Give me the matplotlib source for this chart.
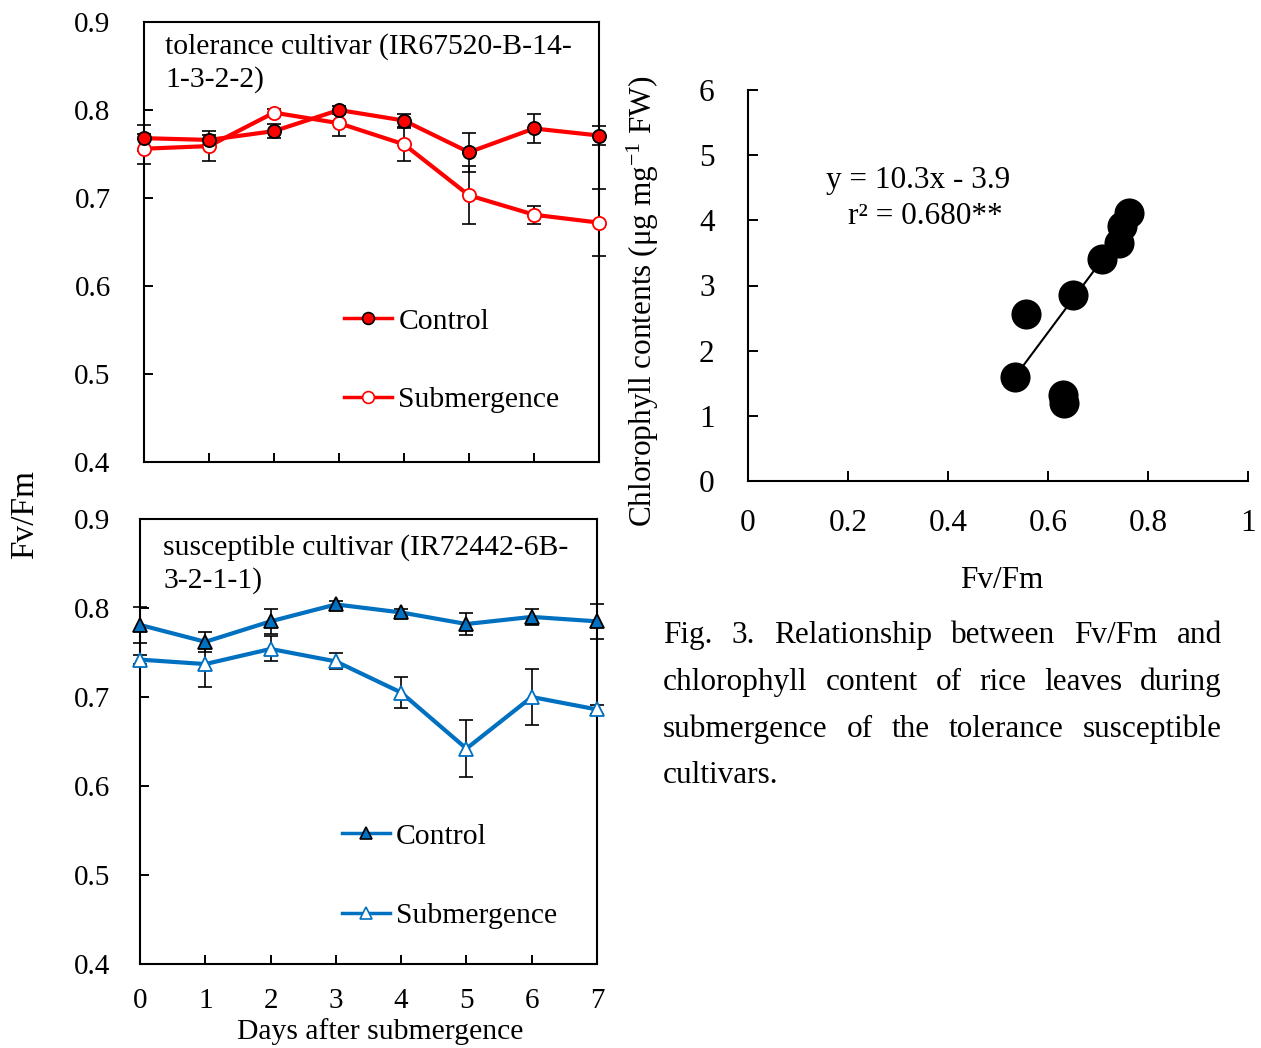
import matplotlib
matplotlib.use('Agg')
import matplotlib.pyplot as plt
from matplotlib.lines import Line2D
import numpy as np

plt.rcParams['font.family'] = ['Liberation Serif', 'DejaVu Serif']
plt.rcParams['mathtext.fontset'] = 'custom'
plt.rcParams['mathtext.rm'] = 'Liberation Serif'
plt.rcParams['mathtext.it'] = 'Liberation Serif:italic'
plt.rcParams['mathtext.bf'] = 'Liberation Serif:bold'

# ---------------- data ----------------
days = [0, 1, 2, 3, 4, 5, 6, 7]
yticks_fv = [0.4, 0.5, 0.6, 0.7, 0.8, 0.9]

tol_control = [0.768, 0.766, 0.776, 0.800, 0.788, 0.752, 0.779, 0.771]
tol_control_err = [0.015, 0.006, 0.008, 0.005, 0.007, 0.022, 0.016, 0.011]
tol_sub = [0.756, 0.759, 0.797, 0.785, 0.761, 0.703, 0.681, 0.672]
tol_sub_err = [0.017, 0.017, 0.004, 0.014, 0.019, 0.033, 0.010, 0.038]

sus_control = [0.781, 0.762, 0.785, 0.804, 0.795, 0.782, 0.790, 0.785]
sus_control_err = [0.020, 0.011, 0.014, 0.004, 0.004, 0.012, 0.009, 0.020]
sus_sub = [0.742, 0.737, 0.754, 0.740, 0.705, 0.642, 0.700, 0.686]
sus_sub_err = [0.005, 0.026, 0.014, 0.009, 0.017, 0.032, 0.031, 0.005]

fvfm = [0.761, 0.747, 0.742, 0.707, 0.649, 0.555, 0.533, 0.629, 0.631]
chl = [4.11, 3.91, 3.65, 3.40, 2.85, 2.56, 1.60, 1.32, 1.19]
reg_slope = 10.3
reg_intercept = -3.9
scatter_xticks = [0, 0.2, 0.4, 0.6, 0.8, 1.0]
scatter_xticklabels = ['0', '0.2', '0.4', '0.6', '0.8', '1']
scatter_yticks = [0, 1, 2, 3, 4, 5, 6]

legend_labels = ['Control', 'Submergence']
caption_lines = ['Fig. 3. Relationship between Fv/Fm and',
                 'chlorophyll content of rice leaves during',
                 'submergence of the tolerance susceptible',
                 'cultivars.']

# ---------------- figure ----------------
W, H = 1261, 1048
fig = plt.figure(figsize=(W / 100, H / 100), dpi=100)


def fx(x):
    return x / W


def fy(y):
    return 1 - y / H


def rect(l, t, r, b):
    return [l / W, 1 - b / H, (r - l) / W, (b - t) / H]


RED = '#FF0000'
BLUE = '#0070C0'
FS = 21.3
FS2 = 22.5

ax1 = fig.add_axes(rect(144, 22, 599, 462))
ax2 = fig.add_axes(rect(140, 519, 597, 964))
ax3 = fig.add_axes(rect(748, 90, 1248, 481))


def style_line_axes(ax, ypad, show_xlabels):
    ax.set_xlim(0, 7)
    ax.set_ylim(0.4, 0.9)
    ax.set_xticks(days)
    ax.set_yticks(yticks_fv)
    ax.set_yticklabels([f'{v:.1f}' for v in yticks_fv])
    ax.tick_params(direction='in', length=6.5, width=1.4, labelsize=21)
    ax.tick_params(axis='y', pad=ypad)
    ax.tick_params(axis='x', pad=17, labelbottom=show_xlabels)
    for s in ax.spines.values():
        s.set_linewidth(1.5)


def draw_series(ax, vals, err, color, marker, mfc, mec):
    eb = ax.errorbar(days, vals, yerr=err, fmt='none', ecolor='black',
                     elinewidth=1.2, capsize=4.8, capthick=1.2, zorder=3)
    for ch in eb.get_children():
        ch.set_clip_on(False)
    ax.plot(days, vals, color=color, lw=3, marker=marker, ms=9.5 if marker == 'o' else 10,
            mfc=mfc, mec=mec, mew=1.3, zorder=4, clip_on=False)


style_line_axes(ax1, 24, False)
draw_series(ax1, tol_sub, tol_sub_err, RED, 'o', 'white', RED)
draw_series(ax1, tol_control, tol_control_err, RED, 'o', RED, 'black')

style_line_axes(ax2, 21.5, True)
draw_series(ax2, sus_sub, sus_sub_err, BLUE, '^', 'white', BLUE)
draw_series(ax2, sus_control, sus_control_err, BLUE, '^', BLUE, 'black')

h1 = [Line2D([], [], color=RED, lw=2.5, marker='o', ms=8.5, mfc=RED, mec='black', mew=1.2),
      Line2D([], [], color=RED, lw=2.5, marker='o', ms=8.5, mfc='white', mec=RED, mew=1.2)]
h2 = [Line2D([], [], color=BLUE, lw=2.5, marker='^', ms=8.5, mfc=BLUE, mec='black', mew=1.2),
      Line2D([], [], color=BLUE, lw=2.5, marker='^', ms=8.5, mfc='white', mec=BLUE, mew=1.2)]
ax1.legend(h1, legend_labels, loc='upper left', bbox_to_anchor=(0.44, 0.35), frameon=False,
           fontsize=FS, handlelength=1.63, handletextpad=0.2, labelspacing=1.74,
           borderpad=0, borderaxespad=0)
ax2.legend(h2, legend_labels, loc='upper left', bbox_to_anchor=(0.442, 0.317), frameon=False,
           fontsize=FS, handlelength=1.63, handletextpad=0.2, labelspacing=1.78,
           borderpad=0, borderaxespad=0)

fig.text(fx(165), fy(54), 'tolerance cultivar (IR67520-B-14-', fontsize=FS, va='baseline')
fig.text(fx(165), fy(87), '1-3-2-2)', fontsize=FS, va='baseline')
fig.text(fx(163), fy(555), 'susceptible cultivar (IR72442-6B-', fontsize=FS, va='baseline')
fig.text(fx(163), fy(588), '3-2-1-1)', fontsize=FS, va='baseline')

fig.text(fx(25), fy(515), 'Fv/Fm', fontsize=24, rotation=90, ha='center', va='center')
fig.text(fx(380), fy(1032), 'Days after submergence', fontsize=FS, ha='center', va='center')

# ---------------- scatter ----------------
ax3.set_xlim(0, 1)
ax3.set_ylim(0, 6)
ax3.spines['top'].set_visible(False)
ax3.spines['right'].set_visible(False)
for s in ['left', 'bottom']:
    ax3.spines[s].set_linewidth(1.5)
ax3.set_xticks(scatter_xticks)
ax3.set_xticklabels(scatter_xticklabels)
ax3.set_yticks(scatter_yticks)
ax3.tick_params(direction='in', length=7, width=1.4, labelsize=FS2)
ax3.tick_params(axis='y', pad=24)
ax3.tick_params(axis='x', pad=20)
xs = np.array([min(fvfm), max(fvfm)])
ax3.plot(xs, reg_slope * xs + reg_intercept, color='black', lw=1.5, zorder=2)
ax3.scatter(fvfm, chl, s=470, color='black', zorder=3, clip_on=False, linewidths=0)

fig.text(fx(918), fy(181), 'y = 10.3x - 3.9', fontsize=FS2, ha='center', va='center')
fig.text(fx(925), fy(216), 'r² = 0.680**', fontsize=FS2, ha='center', va='center')
fig.text(fx(643), fy(301), 'Chlorophyll contents (μg mg$^{-1}$ FW)', fontsize=FS2,
         rotation=90, ha='center', va='center')
fig.text(fx(1002), fy(580), 'Fv/Fm', fontsize=FS2, ha='center', va='center')

# ---------------- caption (justified) ----------------
renderer = fig.canvas.get_renderer()
left, right = 663, 1222
baselines = [643, 690, 737, 783]
for i, line in enumerate(caption_lines):
    b = baselines[i]
    if i == len(caption_lines) - 1:
        fig.text(fx(left), fy(b), line, fontsize=FS2, va='baseline')
        continue
    words = line.split()
    texts = [fig.text(0, fy(b), w, fontsize=FS2, va='baseline') for w in words]
    widths = [t.get_window_extent(renderer).width for t in texts]
    gap = (right - left - sum(widths)) / (len(words) - 1)
    x = left
    for t, w in zip(texts, widths):
        t.set_x(fx(x))
        x += w + gap

fig.savefig('out.png', dpi=100)
